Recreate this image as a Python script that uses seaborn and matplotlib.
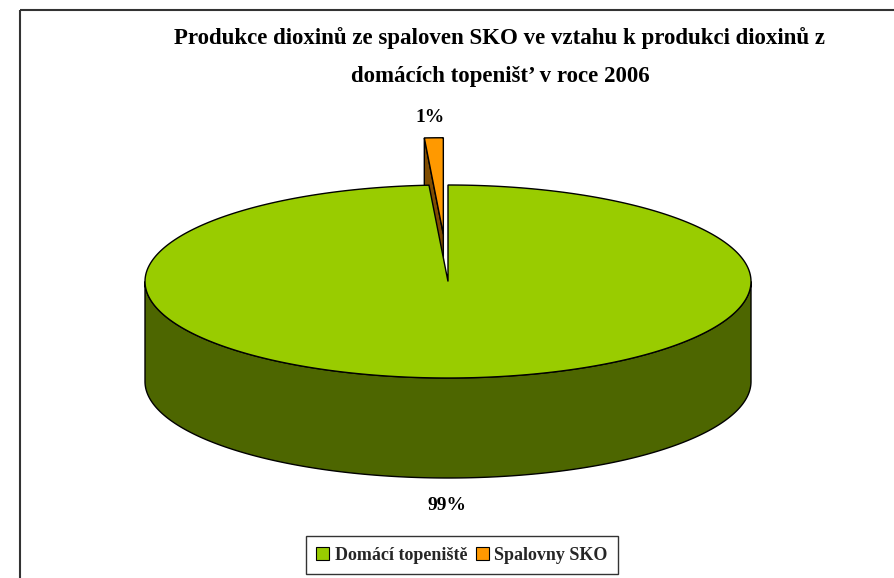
import numpy as np
import matplotlib
matplotlib.use("Agg")
import matplotlib.pyplot as plt
from matplotlib.patches import Polygon, Patch
import seaborn as sns

# chart data
categories = ["Domácí topeniště", "Spalovny SKO"]
shares = [99, 1]
top_colors = ["#99CC00", "#FF9900"]
side_colors = ["#4D6600", "#7F4C00"]
title = "Produkce dioxinů ze spaloven SKO ve vztahu k produkci dioxinů z\ndomácích topeništ’ v roce 2006"

sns.set_theme(style="white")
plt.rcParams['font.family'] = ['Liberation Serif', 'DejaVu Serif']

fig = plt.figure(figsize=(8.94, 5.78), dpi=100)
ax = fig.add_axes([0, 0, 1, 1])
ax.set_xlim(0, 894)
ax.set_ylim(578, 0)
ax.axis("off")

# pie geometry in pixel space
cx, cy = 448, 281.5
a, b = 303, 96.5
depth = 100
explode = [0, 0.49]   # fraction of radius


def edge(t, dx=0, dy=0):
    t = np.radians(t)
    return np.column_stack([cx + dx + a * np.cos(t), cy + dy - b * np.sin(t)])


# slices go clockwise from 12 o'clock
fracs = np.array(shares) / sum(shares) * 360
starts = 90 - np.concatenate([[0], np.cumsum(fracs)[:-1]])

lw = 1.0
patches_back = []
patches_front = []
for i in range(len(shares)):
    t1 = starts[i]
    t0 = t1 - fracs[i]
    if t0 < 0:
        t0, t1 = t0 + 360, t1 + 360
    mid = np.radians((t0 + t1) / 2)
    dx = explode[i] * a * np.cos(mid)
    dy = -explode[i] * b * np.sin(mid)
    ts = np.linspace(t0, t1, 400)
    arc = edge(ts, dx, dy)
    centre = np.array([cx + dx, cy + dy])
    top = Polygon(np.vstack([centre, arc]), closed=True, fc=top_colors[i], ec="black", lw=lw)

    parts = []
    # radial face at the ccw end of the slice (faces the viewer when on the left)
    p = edge([t1], dx, dy)[0]
    if explode[i] > 0 and np.cos(np.radians(t1)) < 0:
        quad = np.array([centre, p, p + [0, depth], centre + [0, depth]])
        parts.append(Polygon(quad, closed=True, fc=side_colors[i], ec="black", lw=lw))
    # front outer wall
    if t1 - t0 > 180:
        lo, hi = 180, 360
    else:
        lo, hi = max(t0, 180), min(t1, 360)
    if hi > lo:
        wt = np.linspace(lo, hi, 300)
        upper = edge(wt, dx, dy)
        lower = upper[::-1] + [0, depth]
        parts.append(Polygon(np.vstack([upper, lower]), closed=True, fc=side_colors[i], ec="black", lw=lw))
    parts.append(top)
    if explode[i] > 0:
        patches_back.extend(parts)
    else:
        patches_front.extend(parts)

for p in patches_back + patches_front:
    ax.add_patch(p)

# percentage labels
ax.text(430, 117, f"{shares[1]}%", ha="center", va="center", fontsize=14, fontweight="bold", color="black")
ax.text(447, 505, f"{shares[0]}%", ha="center", va="center", fontsize=14, fontweight="bold", color="black")

# title
ax.text(500, 57, title, ha="center", va="center", fontsize=16.5, fontweight="bold",
        linespacing=2.05, color="black")

# chart frame
ax.plot([20, 894], [10, 10], color="#333333", lw=1.5, solid_capstyle="butt")
ax.plot([20, 20], [10, 578], color="#333333", lw=1.5, solid_capstyle="butt")

handles = [Patch(fc=c, ec="black", lw=0.8) for c in top_colors]
leg = ax.legend(handles, categories, loc="center", bbox_to_anchor=(462 / 894, 1 - 555 / 578),
                ncol=2, frameon=True, fancybox=False, handlelength=0.7, handleheight=0.7,
                handletextpad=0.3, columnspacing=0.5, borderpad=0.6,
                prop={"weight": "bold", "size": 13})
leg.get_frame().set_edgecolor("black")
leg.get_frame().set_linewidth(1.0)

fig.savefig("out.png", dpi=100, facecolor="white")
